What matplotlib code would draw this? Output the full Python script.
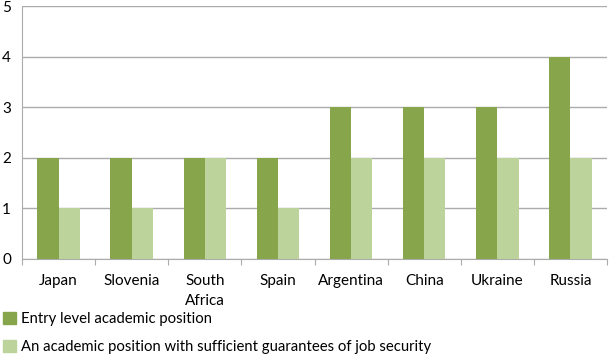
import matplotlib.pyplot as plt
import numpy as np
from matplotlib.patches import Patch

# data
countries = ['Japan', 'Slovenia', 'South\nAfrica', 'Spain', 'Argentina', 'China', 'Ukraine', 'Russia']
entry_level = [2, 2, 2, 2, 3, 3, 3, 4]
job_security = [1, 1, 2, 1, 2, 2, 2, 2]
series_names = ['Entry level academic position',
                'An academic position with sufficient guarantees of job security']

dark = '#87A54A'
light = '#BCD49C'
grid_c = '#ABABAB'

plt.rcParams['font.family'] = ['Lato', 'DejaVu Sans']

fig = plt.figure(figsize=(6.09, 3.55), dpi=100)
ax = fig.add_axes([22 / 609, 1 - 259 / 355, 585 / 609, 253 / 355])

x = np.arange(len(countries))
w = 0.29
ax.bar(x - w / 2, entry_level, w, color=dark, zorder=3)
ax.bar(x + w / 2, job_security, w, color=light, zorder=3)

ax.set_xlim(-0.5, len(countries) - 0.5)
ax.set_ylim(0, 5)
ax.set_yticks(range(6))
ax.yaxis.grid(True, color=grid_c, linewidth=1, zorder=0)
ax.tick_params(axis='y', length=0, labelsize=11, pad=8)

# category ticks at boundaries
ax.set_xticks(np.arange(-0.5, len(countries), 1))
ax.set_xticklabels([])
ax.set_xticks(x, minor=True)
ax.set_xticklabels(countries, minor=True, fontsize=11, linespacing=1.5)
ax.tick_params(axis='x', which='major', length=4, color=grid_c)
ax.tick_params(axis='x', which='minor', length=0, pad=11)

for s in ['top', 'right']:
    ax.spines[s].set_visible(False)
ax.spines['left'].set_color(grid_c)
ax.spines['bottom'].set_color(grid_c)

handles = [Patch(color=dark), Patch(color=light)]
fig.legend(handles, series_names, loc='upper left', bbox_to_anchor=(0.0, 1 - 309 / 355),
           frameon=False, fontsize=10.7, handlelength=0.85, handleheight=0.85,
           handletextpad=0.35, labelspacing=0.95, borderpad=0.2, borderaxespad=0)

fig.savefig('out.png', dpi=100)
